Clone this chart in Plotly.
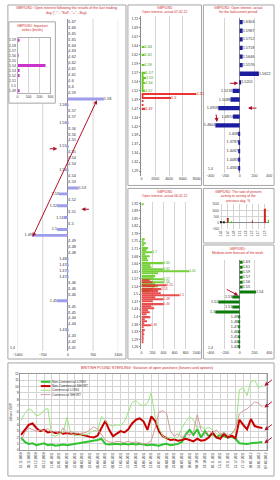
import plotly.graph_objects as go
import pandas as pd

W, H = 280, 480
FONT = "Liberation Sans"
GRID = "#d4d4d4"
BORDER = "#a6a6a6"
TITLE_RED = "#cc2a2a"
ARROW_RED = "#b0102a"

# ---------------- data ----------------
# Panel 1: open interest after last trading day
p1_strikes = [1.6700, 1.6600, 1.6500, 1.6450, 1.6400, 1.6300, 1.6250, 1.6200, 1.6150, 1.6100,
              1.6050, 1.6000, 1.5900, 1.5800, 1.5775, 1.5725, 1.5700, 1.5625, 1.5600, 1.5575,
              1.5525, 1.5500, 1.5475, 1.5450, 1.5425, 1.5400, 1.5375, 1.5350, 1.5325, 1.5300,
              1.5250, 1.5200, 1.5150, 1.5100, 1.5050, 1.5000, 1.4900, 1.4850, 1.4800, 1.4775,
              1.4750, 1.4725, 1.4700, 1.4650, 1.4600, 1.4575, 1.4550, 1.4525, 1.4500, 1.4450,
              1.4400, 1.4375, 1.4300, 1.4250, 1.4200, 1.4100]
p1_oi = [8, 8, 8, 8, 8, 8, 8, 8, 8, 8,
         8, 8, 8, 1000, -10, 8, 8, -10, 8, 8,
         8, -10, 8, 8, 8, -10, 8, 8, 300, -250,
         8, -300, 8, -120, 8, -300, -1000, 8, 8, 8,
         -10, -10, -10, -10, 8, 8, 8, -300, 8, 8,
         8, 8, -10, 8, 8, 8]

# Inset: important strikes
inset_levels = ["1.59", "1.58", "1.57", "1.56", "1.55", "1.54", "1.53", "1.52", "1.51", "1.5", "1.49"]
inset_vals = [15, 0, 0, 6, 0, 255, 10, 10, 0, 0, 12]

# Panel 2: open interest actual (calls green / puts red)
p2_call_strikes = [1.64, 1.62, 1.59, 1.57, 1.565, 1.56, 1.555, 1.55, 1.545, 1.54, 1.535, 1.53, 1.525, 1.52]
p2_call_oi = [450, 450, 450, 600, 250, 300, 650, 350, 300, 550, 250, 300, 200, 500]
p2_call_text = ["1.64", "1.62", "1.59", "1.57", "", "", "1.55", "", "", "1.54", "", "", "", "1.52"]
p2_put_strikes = [1.51, 1.505, 1.50, 1.49, 1.48, 1.47]
p2_put_oi = [8000, 300, 4300, 200, 150, 550]
p2_put_text = ["1.51", "", "1.5", "", "", "1.47"]
p2_tickvals = [1.72, 1.695, 1.67, 1.645, 1.62, 1.595, 1.57, 1.545, 1.52, 1.495, 1.47, 1.445,
               1.42, 1.395, 1.37, 1.345, 1.32, 1.295]
p2_ticktext = ["1.72", "1.69", "1.67", "1.64", "1.62", "1.59", "1.57", "1.54", "1.52", "1.49",
               "1.47", "1.44", "1.42", "1.39", "1.37", "1.34", "1.32", "1.29"]

# Panel 3: open interest for the current period
p3_levels = ["1.6304", "1.5987", "1.5712", "1.5718", "1.5646", "1.5576", "1.5622", "1.5201", "1.5233",
             "1.5088", "1.4958", "1.4874", "1.4604", "1.408", "1.3787", "1.4067", "1.4483", "1.4365"]
p3_oi = [40, 40, 40, 40, 40, 40, 260, 8, -95, -125, -290, -90, -330, -8, -8, -8, -8, -8]

# Panel 4: open interest actual (calls green / puts red)
p4_call_strikes = [1.92, 1.76, 1.75, 1.74, 1.73, 1.72, 1.71, 1.70, 1.69, 1.68, 1.67, 1.66, 1.65,
                   1.64, 1.63, 1.62, 1.61, 1.60, 1.59, 1.58, 1.575, 1.56, 1.55, 1.54, 1.53, 1.52]
p4_call_oi = [40, 60, 40, 80, 50, 120, 90, 200, 70, 150, 100, 120, 400,
              160, 180, 400, 870, 300, 250, 220, 400, 400, 250, 300, 200, 150]
p4_call_text = ["", "", "", "", "", "", "", "1.7", "", "", "", "", "1.65",
                "", "", "1.62", "1.61", "", "", "", "1.57", "1.56", "", "", "", ""]
p4_put_strikes = [1.57, 1.56, 1.545, 1.54, 1.53, 1.52, 1.51, 1.50, 1.49, 1.48, 1.47, 1.46, 1.45,
                  1.44, 1.43, 1.42, 1.41, 1.40, 1.39, 1.38, 1.37, 1.36, 1.35, 1.34, 1.33, 1.32,
                  1.31, 1.30, 1.29, 1.28]
p4_put_oi = [150, 200, 460, 250, 360, 300, 350, 690, 250, 400, 200, 400, 180,
             230, 120, 150, 90, 160, 60, 100, 50, 170, 40, 60, 30, 50,
             30, 40, 20, 30]
p4_put_text = ["", "", "1.55", "", "1.53", "", "", "1.5", "", "1.48", "", "1.46", "",
               "", "", "", "", "", "", "", "", "1.36", "", "", "", "",
               "", "", "", ""]
p4_tickvals = [1.925, 1.89, 1.855, 1.82, 1.785, 1.75, 1.715, 1.68, 1.645, 1.61, 1.575, 1.54,
               1.505, 1.47, 1.435, 1.40, 1.365, 1.33, 1.295, 1.26]
p4_ticktext = ["1.92", "1.89", "1.85", "1.82", "1.78", "1.75", "1.71", "1.68", "1.64", "1.61",
               "1.57", "1.54", "1.5", "1.47", "1.43", "1.4", "1.36", "1.33", "1.29", "1.26"]

# Panel 5: ratio of present activity to previous day, %
p5_cats = ["1.45", "1.46", "1.47", "1.48", "1.49", "1.50", "1.51", "1.52",
           "1.53", "1.54", "1.55", "1.56", "1.57", "1.58", "1.59", "1.60"]
p5_total = [150, 80, 0, 0, 0, 0, 0, 0, 0, 0, 0, 0, 0, 0, 0, 0]
p5_puts = [0, 0, 400, 0, 0, 0, 0, 0, 0, 0, 200, 0, 0, 0, 1150, 0]
p5_calls = [0, 0, 250, 100, 0, 0, 0, 0, 0, 0, 0, 0, 0, 0, 0, 250]

# Panel 6: medium-term forecast
p6_levels = ["1.63", "1.61", "1.59", "1.57", "1.56", "1.55", "1.54", "1.53", "1.52",
             "1.51", "1.5", "1.49", "1.48", "1.47", "1.46", "1.45", "1.44", "1.43"]
p6_vals = [40, 40, 40, 40, 40, 40, 220, -100, -290, -100, -330, -8, -8, -8, -8, -8, -8, -8]

# Bottom: COT positions, billions GBP
cot_start = "2010-11-16"
nc_long = [2.0, 1.3, 1.0, 1.1, 0.8, 1.0, 1.1, 0.8, 0.9, 0.7, 0.8, 0.9, 0.8, 0.9, 1.0, 1.0,
           1.1, 1.2, 1.3, 1.5, 1.6, 1.8, 1.0, 0.9, 1.0, 1.0, 0.9, 1.0, 0.9, 1.0, 0.9, 1.0,
           0.9, 0.8, 0.9, 0.8, 0.7, 0.9, 1.0, 0.8, 0.9, 1.0, 1.3, 2.5, 3.2, 2.4, 3.3, 2.0,
           3.0, 2.2, 2.6, 2.0, 2.4, 2.2, 2.0, 2.1, 1.8, 1.1, 1.0, 1.0, 1.1, 1.1, 1.2, 1.3]
nc_short = [2.4, 3.3, 4.0, 4.2, 3.5, 3.0, 3.2, 2.8, 2.9, 2.7, 2.8, 2.6, 2.7, 2.6, 2.5, 2.6,
            2.4, 2.2, 2.1, 2.0, 2.3, 3.5, 4.6, 3.2, 2.2, 2.6, 3.0, 2.8, 3.3, 4.2, 4.8, 5.0,
            4.5, 3.2, 5.3, 4.6, 3.0, 2.2, 1.9, 1.6, 1.7, 1.5, 1.6, 1.8, 1.6, 1.4, 1.8, 1.5,
            1.6, 2.0, 2.8, 2.0, 1.8, 2.6, 2.0, 2.3, 1.9, 4.8, 4.0, 3.3, 4.9, 3.8, 3.6, 3.5]
c_long = [4.7, 5.8, 6.5, 6.2, 5.4, 5.6, 6.3, 6.6, 2.4, 2.2, 2.6, 2.8, 5.2, 2.6, 2.4, 2.3,
          2.5, 2.4, 2.8, 3.1, 3.0, 5.3, 4.6, 4.0, 3.8, 4.0, 3.9, 4.5, 6.0, 7.5, 7.8, 7.2,
          7.0, 7.4, 9.0, 5.3, 3.5, 2.2, 1.9, 2.0, 1.8, 2.1, 3.5, 4.5, 5.2, 4.8, 3.5, 3.8,
          3.3, 3.6, 3.2, 2.6, 2.4, 2.8, 2.3, 2.6, 3.0, 9.5, 9.8, 8.6, 10.8, 11.0, 9.8, 10.2]
c_short = [1.5, 2.8, 3.5, 3.3, 3.0, 3.2, 3.1, 3.4, 2.8, 3.0, 2.6, 3.5, 2.7, 2.9, 2.8, 2.6,
           2.7, 2.8, 3.2, 3.7, 3.3, 2.5, 1.6, 1.3, 1.2, 1.4, 1.3, 1.2, 1.4, 1.2, 1.3, 1.1,
           1.0, 1.1, 1.5, 3.5, 6.0, 6.2, 5.8, 3.0, 2.2, 2.6, 2.0, 2.5, 2.4, 2.8, 5.6, 3.2,
           2.6, 3.0, 2.7, 3.2, 2.5, 2.8, 2.3, 2.6, 3.5, 5.7, 6.2, 6.5, 7.0, 7.6, 7.4, 6.8]
cot_series = [
    ("Non-Commercial LONG", nc_long, "#2fc42f", 2.0),
    ("Non-Commercial SHORT", nc_short, "#c80000", 2.0),
    ("Commercial LONG", c_long, "#9be37f", 1.0),
    ("Commercial SHORT", c_short, "#d49a9a", 1.0),
]


# ---------------- helpers ----------------
def short_label(s):
    return f"{s:.2f}".rstrip("0").rstrip(".")


def pxx(x):
    return x / W


def pyy(y):
    return 1 - y / H


fig = go.Figure()


def box(x0, y0, x1, y1, fill="rgba(0,0,0,0)"):
    fig.add_shape(type="rect", xref="paper", yref="paper", x0=pxx(x0), x1=pxx(x1),
                  y0=pyy(y1), y1=pyy(y0), line=dict(color=BORDER, width=1),
                  fillcolor=fill, layer="below")


def text(x, y, t, size=3.5, color=TITLE_RED, xanchor="center", yanchor="top"):
    fig.add_annotation(x=pxx(x), y=pyy(y), xref="paper", yref="paper", text=t, showarrow=False,
                       font=dict(size=size, color=color, family=FONT), xanchor=xanchor,
                       yanchor=yanchor, align="center", borderpad=0)


def arrow(hx, hy, tx, ty, both=False):
    fig.add_annotation(x=pxx(hx), y=pyy(hy), xref="paper", yref="paper", ax=tx - hx, ay=ty - hy,
                       axref="pixel", ayref="pixel", showarrow=True, text="", arrowhead=2,
                       arrowsize=0.8, arrowwidth=1, arrowcolor=ARROW_RED,
                       arrowside="end+start" if both else "end", startarrowhead=2,
                       startarrowsize=0.8, standoff=0, startstandoff=0)


def hbar(x, y, xa, ya, color, txt, tcolor="#333333", width=None, offsetgroup=None,
         opacity=1.0, tsize=3.8):
    fig.add_trace(go.Bar(x=x, y=y, orientation="h", xaxis=xa, yaxis=ya, text=txt,
                         textposition="outside", cliponaxis=False, constraintext="none",
                         textfont=dict(size=tsize, color=tcolor, family=FONT),
                         marker=dict(color=color, line=dict(width=0)), opacity=opacity,
                         width=width, offsetgroup=offsetgroup, showlegend=False,
                         hoverinfo="skip"))


# ---------------- panel boxes & custom gridlines ----------------
box(3, 3, 125, 360)
box(127, 3, 203, 185)
box(205, 3, 278, 185)
box(127, 188, 203, 360)
box(205, 188, 278, 243)
box(205, 245, 278, 360)
box(3, 364, 278, 478)

# panel 1 gridlines (interrupted behind the inset)
p1_ticks = [-1400, -700, 0, 700, 1400]
for v in p1_ticks:
    if v == 0:
        continue
    top = 103 if v < 0 else 17
    fig.add_shape(type="line", xref="x", yref="paper", x0=v, x1=v, y0=pyy(352), y1=pyy(top),
                  line=dict(color=GRID, width=1), layer="below")
# inset box (white, over panel 1 grid)
box(4, 20, 52, 102, fill="white")

# ---------------- traces ----------------
p1_keys = [f"{s:.4f}" for s in p1_strikes]
hbar(p1_oi, p1_keys, "x", "y", "#9d9deb", [short_label(s) for s in p1_strikes], width=0.5)

hbar(inset_vals, inset_levels, "x2", "y2", "#cc33cc", None, width=0.6)

hbar(p2_call_oi, p2_call_strikes, "x3", "y3", "#66cc22", p2_call_text, tcolor="#3a9a10",
     width=0.0035, offsetgroup="p2")
hbar(p2_put_oi, p2_put_strikes, "x3", "y3", "#ee3333", p2_put_text, tcolor="#cc1111",
     width=0.0035, offsetgroup="p2")

hbar(p3_oi, p3_levels, "x4", "y4", "#1c1ca0", p3_levels, width=0.5)

hbar(p4_call_oi, p4_call_strikes, "x5", "y5", "#74d13a", p4_call_text, tcolor="#3a9a10",
     width=0.0065, offsetgroup="p4", tsize=3.2)
hbar(p4_put_oi, p4_put_strikes, "x5", "y5", "#e53030", p4_put_text, tcolor="#cc1111",
     width=0.0065, offsetgroup="p4", opacity=0.85, tsize=3.2)

for vals, col in [(p5_total, "#222222"), (p5_puts, "#d42020"), (p5_calls, "#44bb22")]:
    fig.add_trace(go.Bar(x=p5_cats, y=vals, xaxis="x6", yaxis="y6", marker=dict(color=col, line=dict(width=0)),
                         showlegend=False, hoverinfo="skip"))

hbar(p6_vals, p6_levels, "x7", "y7", "#0b7a0b", p6_levels, width=0.6)

dates = pd.date_range(cot_start, periods=len(nc_long), freq="7D")
for name, vals, col, lw in cot_series:
    fig.add_trace(go.Scatter(x=dates, y=vals, mode="lines", name=name, xaxis="x8", yaxis="y8",
                             line=dict(color=col, width=lw), showlegend=False, hoverinfo="skip"))

# manual legend
for i, (name, vals, col, lw) in enumerate(cot_series):
    yy = 383 + 4.3 * i
    fig.add_shape(type="line", xref="paper", yref="paper", x0=pxx(37), x1=pxx(47),
                  y0=pyy(yy), y1=pyy(yy), line=dict(color=col, width=lw))
    text(48, yy, name, size=3.2, color="#333333", xanchor="left", yanchor="middle")

# ---------------- titles & labels ----------------
text(64, 3.5, "GBP/USD: Open interest following the results of the last trading<br>"
              "day (\"-\" - \"Sell\", \"+\" - Buy)", size=3.6)
text(28, 21.5, "GBP/USD: Important<br>strikes (levels)", size=3.3)
text(165, 3.5, "GBP/USD<br>Open interest, actual 07.02.12", size=3.4)
text(241, 3.5, "GBP/USD: Open interest, actual<br>for the last/current period", size=3.4)
text(165, 189, "GBP/USD<br>Open interest, actual 06.02.12", size=3.4)
text(241, 189, "GBP/USD: The ratio of present<br>activity to activity of the<br>previous day, %", size=3.4)
text(241, 246, "GBP/USD:<br>Medium-term forecast of the week", size=3.4)
text(147, 366, "BRITISH POUND STERLING: Variation of open positions (futures and options)", size=3.8)
text(8, 349, "1.4", size=3.5, color="#333333", yanchor="middle")
text(212, 168, "1.4", size=3.5, color="#333333", yanchor="middle")
text(212, 349, "1.4", size=3.5, color="#333333", yanchor="middle")

# ---------------- arrows ----------------
arrow(95, 99, 30, 237, both=True)
arrow(54, 148, 45, 148)
arrow(79, 209, 88, 209)
arrow(241, 82, 231, 82)
arrow(251, 107, 261, 107)
arrow(219, 121, 218, 112)
arrow(241, 296, 228, 289)
arrow(268, 387, 277, 380)
arrow(268, 409, 277, 402)
arrow(268, 432, 277, 425)
arrow(268, 445, 277, 438)

# ---------------- axes ----------------
TF = dict(size=3.5, family=FONT, color="#333333")


def axis(**kw):
    base = dict(tickfont=TF, ticks="", showline=False, zeroline=False, showgrid=False,
                fixedrange=True, gridcolor=GRID, gridwidth=1)
    base.update(kw)
    return base


layout_axes = dict(
    xaxis=axis(domain=[pxx(13), pxx(117)], anchor="y", range=[-1400, 1400], tickvals=p1_ticks,
               zeroline=True, zerolinecolor="#8a8a8a", zerolinewidth=1),
    yaxis=axis(domain=[pyy(352), pyy(17)], anchor="x", type="category", categoryorder="array",
               categoryarray=p1_keys, autorange="reversed", showticklabels=False),
    xaxis2=axis(domain=[pxx(13), pxx(47)], anchor="y2", range=[0, 300], tickvals=[0, 100, 200, 300],
                showgrid=True, showline=True, mirror=True, linecolor="#b0b0b0"),
    yaxis2=axis(domain=[pyy(92), pyy(36)], anchor="x2", type="category", categoryorder="array",
                categoryarray=inset_levels, autorange="reversed", showline=True, mirror=True,
                linecolor="#b0b0b0"),
    xaxis3=axis(domain=[pxx(141), pxx(198)], anchor="y3", range=[0, 8000],
                tickvals=[0, 2000, 4000, 6000, 8000], showgrid=True),
    yaxis3=axis(domain=[pyy(175), pyy(14)], anchor="x3", range=[1.283, 1.727],
                tickvals=p2_tickvals, ticktext=p2_ticktext, showline=True, linecolor="#8a8a8a",
                ticks="outside", ticklen=1.5, tickcolor="#8a8a8a"),
    xaxis4=axis(domain=[pxx(212), pxx(273)], anchor="y4", range=[-400, 400],
                tickvals=[-400, -200, 0, 200, 400], showgrid=True, zeroline=True,
                zerolinecolor="#8a8a8a", zerolinewidth=1),
    yaxis4=axis(domain=[pyy(172), pyy(16)], anchor="x4", type="category", categoryorder="array",
                categoryarray=p3_levels, autorange="reversed", showticklabels=False),
    xaxis5=axis(domain=[pxx(141), pxx(198)], anchor="y5", range=[0, 1000],
                tickvals=[0, 200, 400, 600, 800, 1000], showgrid=True),
    yaxis5=axis(domain=[pyy(350), pyy(202)], anchor="x5", range=[1.25, 1.93],
                tickvals=p4_tickvals, ticktext=p4_ticktext, showline=True, linecolor="#8a8a8a",
                ticks="outside", ticklen=1.5, tickcolor="#8a8a8a"),
    xaxis6=axis(domain=[pxx(222), pxx(273)], anchor="y6", type="category", tickangle=-90,
                tickfont=dict(size=3, family=FONT, color="#333333"), showgrid=True),
    yaxis6=axis(domain=[pyy(229), pyy(204)], anchor="x6", range=[-500, 1500],
                tickvals=[-500, 0, 500, 1000, 1500], ticksuffix=" %", showgrid=True,
                zeroline=True, zerolinecolor="#8a8a8a", zerolinewidth=1,
                tickfont=dict(size=3, family=FONT, color="#333333")),
    xaxis7=axis(domain=[pxx(212), pxx(273)], anchor="y7", range=[-400, 400],
                tickvals=[-400, -200, 0, 200, 400], showgrid=True, zeroline=True,
                zerolinecolor="#8a8a8a", zerolinewidth=1),
    yaxis7=axis(domain=[pyy(350), pyy(260)], anchor="x7", type="category", categoryorder="array",
                categoryarray=p6_levels, autorange="reversed", showticklabels=False),
    xaxis8=axis(domain=[pxx(16), pxx(271)], anchor="y8", type="date",
                range=[dates[0] - pd.Timedelta(days=1), dates[-1] + pd.Timedelta(days=9)],
                tick0=dates[0], dtick=14 * 86400000, tickformat="%d.%m.%Y", tickangle=-90,
                tickfont=dict(size=3.2, family=FONT, color="#333333"), showgrid=True,
                showline=True, mirror=True, linecolor="#9a9a9a"),
    yaxis8=axis(domain=[pyy(452), pyy(375)], anchor="x8", range=[0, 12], dtick=1, showgrid=True,
                showline=True, mirror=True, linecolor="#9a9a9a",
                title=dict(text="billions GBP", font=dict(size=3.3, family=FONT, color="#333333"),
                           standoff=2)),
)

fig.update_layout(
    width=W, height=H, margin=dict(l=0, r=0, t=0, b=0),
    paper_bgcolor="white", plot_bgcolor="rgba(0,0,0,0)",
    barmode="group", bargap=0.25, showlegend=False,
    font=dict(family=FONT, size=4, color="#333333"),
    **layout_axes,
)

fig.write_html("out.html")
